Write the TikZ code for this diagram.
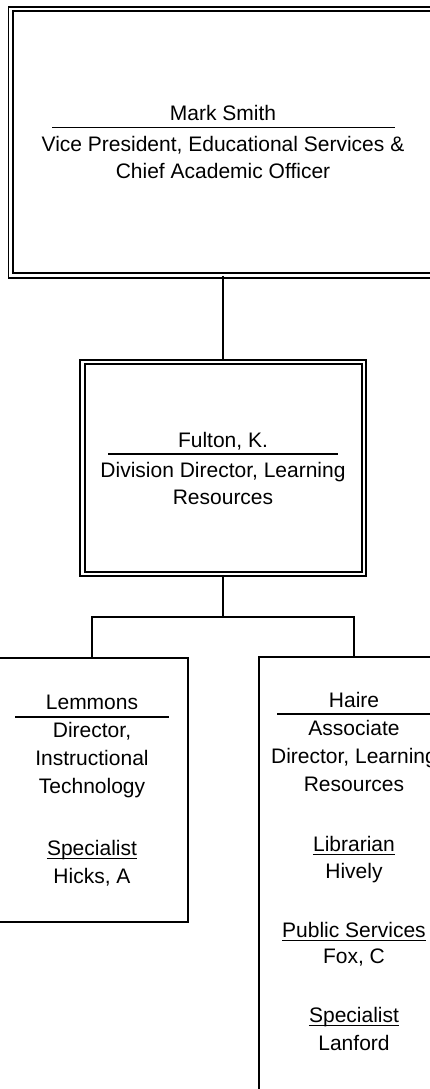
\documentclass[tikz,border=0pt]{standalone}
\usepackage{fontspec}
\setmainfont{Liberation Sans}
\begin{document}
\begin{tikzpicture}[x=1pt,y=-1pt,
  dbox/.style={draw, double, line width=1.8pt, double distance=2.7pt, inner sep=0pt, rectangle},
  sbox/.style={draw, line width=1.9pt, inner sep=0pt, rectangle},
  conn/.style={line width=1.8pt},
  namerule/.style={line width=1.4pt},
  ulrule/.style={line width=1pt},
  txt/.style={inner sep=0pt, anchor=base, font=\fontsize{21}{25}\selectfont}]
\useasboundingbox (0,0) rectangle (430,1089);
\clip (0,0) rectangle (430,1089);
% boxes
\node[dbox, minimum width=425pt, minimum height=266.5pt] (ms) at (223.25,142.25) {};
\node[dbox, minimum width=281.5pt, minimum height=212pt] (fk) at (223.25,468) {};
\node[sbox, minimum width=192pt, minimum height=264pt] (lm) at (92,790) {};
\node[sbox, minimum width=190pt, minimum height=453pt] (ha) at (354,883.5) {};
% connectors
\coordinate (j) at (223.25,617);
\draw[conn] (ms.south) -- (fk.north);
\draw[conn] (fk.south) -- (j);
\draw[conn] (lm.north) |- (j) -| (ha.north);
% Mark Smith
\node[txt] (ms1) at (223,120.7) {Mark Smith};
\draw[namerule] (52,127.3) -- (395,127.3);
\node[txt] (ms2) at (223,151.7) {Vice President, Educational Services \&};
\node[txt] (ms3) at (223,178.3) {Chief Academic Officer};
% Fulton
\node[txt] (fk1) at (223,447) {Fulton, K.};
\draw[namerule] (108,454) -- (338,454);
\node[txt] (fk2) at (223,477) {Division Director, Learning};
\node[txt] (fk3) at (223,504) {Resources};
% Lemmons
\node[txt] (lm1) at (92,709) {Lemmons};
\draw[namerule] (15,717) -- (169,717);
\node[txt] (lm2) at (92,737) {Director,};
\node[txt] (lm3) at (92,765) {Instructional};
\node[txt] (lm4) at (92,793) {Technology};
\node[txt] (lm5) at (92,855) {Specialist};
\draw[ulrule] ([yshift=-3pt]lm5.base west) -- ([yshift=-3pt]lm5.base east);
\node[txt] (lm6) at (92,883) {Hicks, A};
% Haire
\node[txt] (ha1) at (354,707) {Haire};
\draw[namerule] (277,714) -- (431,714);
\node[txt] (ha2) at (354,735) {Associate};
\node[txt] (ha3) at (354,763) {Director, Learning};
\node[txt] (ha4) at (354,791) {Resources};
\node[txt] (ha5) at (354,851) {Librarian};
\draw[ulrule] ([yshift=-3pt]ha5.base west) -- ([yshift=-3pt]ha5.base east);
\node[txt] (ha6) at (354,878) {Hively};
\node[txt] (ha7) at (354,937) {Public Services};
\draw[ulrule] ([yshift=-3pt]ha7.base west) -- ([yshift=-3pt]ha7.base east);
\node[txt] (ha8) at (354,963) {Fox, C};
\node[txt] (ha9) at (354,1022) {Specialist};
\draw[ulrule] ([yshift=-3pt]ha9.base west) -- ([yshift=-3pt]ha9.base east);
\node[txt] (ha10) at (354,1050) {Lanford};
\end{tikzpicture}
\end{document}
